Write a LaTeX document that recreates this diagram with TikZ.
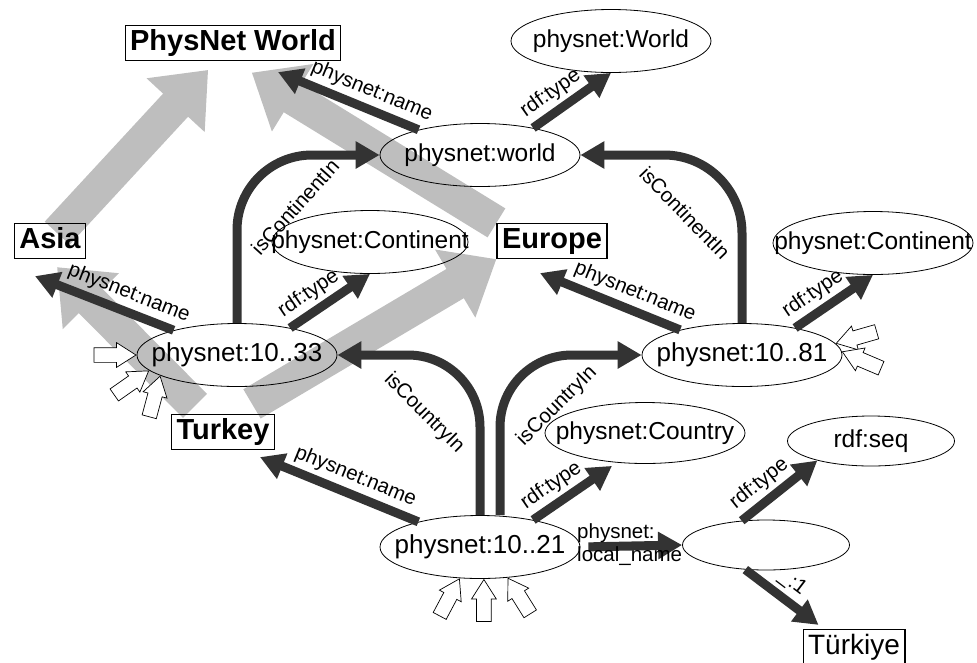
\documentclass[tikz,border=0pt]{standalone}
\usepackage{fontspec}
\setmainfont{Liberation Sans}
\usepackage{tikz}
\usetikzlibrary{arrows.meta}
\usetikzlibrary{shapes.geometric}
\usetikzlibrary{shapes.arrows}
\usetikzlibrary{calc}
\usetikzlibrary{backgrounds}
\definecolor{darkedge}{HTML}{333333}
\definecolor{lightedge}{HTML}{BEBEBE}

\begin{document}
\begin{tikzpicture}[x=1pt, y=-1pt,
        res/.style={ellipse, draw, line width=0.8pt, inner sep=0pt, minimum width=200pt, minimum height=63pt,
            font=\fontsize{24.5}{28}\selectfont,
            execute at begin node={\hbox to 0pt\bgroup\hss}, execute at end node={\hss\egroup}},
        numres/.style={res, font=\fontsize{26}{28}\selectfont},
        smallres/.style={res, minimum width=167pt, minimum height=50pt},
        lit/.style={draw, line width=1.2pt, inner xsep=5pt, inner ysep=3.5pt, text height=21.5pt, text depth=6.5pt,
            font=\fontsize{29}{30}\selectfont\bfseries},
        prop/.style={darkedge, line width=9pt, -{Triangle[length=24pt,width=26pt]}},
        hier/.style={lightedge, line width=34pt, -{Triangle[length=48pt,width=76pt]}},
        lbl/.style={black, font=\fontsize{20.5}{23}\selectfont, inner sep=1pt},
        incoming/.style={single arrow, draw, fill=white, line width=0.7pt, minimum height=42pt, minimum width=24pt,
            inner sep=7pt, single arrow head extend=5pt, single arrow tip angle=65, anchor=tip}]
        \useasboundingbox (0, 0) rectangle (977, 662);

        \node[lit] (pnw) at (233, 43) {PhysNet World};
        \node[res] (worldtype) at (611, 41) {physnet:World};
        \node[res] (world) at (480, 155) {physnet:world};
        \node[lit] (asia) at (50, 241) {Asia};
        \node[res, minimum width=196pt] (cont1) at (370, 242) {physnet:Continent};
        \node[lit] (europe) at (552, 241) {Europe};
        \node[res] (cont2) at (873, 243) {physnet:Continent};
        \node[numres] (n33) at (237, 355) {physnet:10..33};
        \node[numres] (n81) at (742, 355) {physnet:10..81};
        \node[lit] (turkey) at (223, 432) {Turkey};
        \node[res, minimum height=61pt] (country) at (645, 433) {physnet:Country};
        \node[smallres] (seq) at (871, 441) {rdf:seq};
        \node[numres] (n21) at (480, 547) {physnet:10..21};
        \node[smallres] (blank) at (766, 545) {};
        \node[lit, font=\fontsize{28}{30}\selectfont] (tuerkiye) at (854, 647) {Türkiye};

        \begin{scope}[on background layer]
            \draw[hier, shorten <=-14pt, shorten >=12pt] (asia) -- (pnw);
            \draw[hier, shorten >=22pt] (europe.north west) -- (pnw.south);
            \draw[hier] ($(turkey.north)+(-28, -8)$) -- ($(asia.south)+(7, 8)$);
            \draw[hier] ($(turkey.north)+(29, -10)$) -- (europe.south west);
        \end{scope}

        \draw[prop] (world) -- ($(pnw.south)+(45, 11)$)
            node[lbl, sloped, above=3pt, pos=0.38] (lname1) {physnet:name};
        \draw[prop] (world.27) -- (worldtype.south)
            node[lbl, sloped, above=3pt, pos=0.36] (ltype1) {rdf:type};
        \draw[prop, rounded corners=75pt] (n33.north) |- (world.west);
        \draw[prop, rounded corners=78pt] (n81.north) |- (world.east);
        \node[lbl, rotate=48] (lcont1) at (295, 207) {isContinentIn};
        \node[lbl, rotate=-46] (lcont2) at (685, 213) {isContinentIn};

        \draw[prop] (n33) -- ($(asia.south)+(-15, 17)$)
            node[lbl, sloped, above=3pt, pos=0.37] (lname2) {physnet:name};
        \draw[prop] (n33.27) -- (cont1.south)
            node[lbl, sloped, above=3pt, pos=0.36] (ltype2) {rdf:type};
        \draw[prop] (n81) -- ($(europe.south)+(-12, 14)$)
            node[lbl, sloped, above=3pt, pos=0.37] (lname3) {physnet:name};
        \draw[prop] (n81.27) -- (cont2.south)
            node[lbl, sloped, above=3pt, pos=0.36] (ltype3) {rdf:type};

        \draw[prop, rounded corners=72pt] (n21.north) |- (n33.east);
        \draw[prop, rounded corners=72pt] ($(n21.north)+(20, 0)$) |- (n81.west);
        \node[lbl, rotate=-45] (lcountry1) at (424, 413) {isCountryIn};
        \node[lbl, rotate=45] (lcountry2) at (557, 406) {isCountryIn};

        \draw[prop] (n21) -- ($(turkey.south)+(37, 7)$)
            node[lbl, sloped, above=3pt, pos=0.44] (lname4) {physnet:name};
        \draw[prop] (n21.27) -- ($(country.south)+(-33, 2)$)
            node[lbl, sloped, above=3pt, pos=0.36] (ltype4) {rdf:type};
        \draw[prop, shorten <=8pt] (n21.east) -- (blank.west);
        \node[lbl, anchor=west, align=left] (llocal) at (576, 545) {physnet:\\local\_name};
        \draw[prop] (blank.135) -- (seq.200)
            node[lbl, sloped, above=3pt, pos=0.38] (ltype5) {rdf:type};
        \draw[prop] (blank.230) -- ($(tuerkiye.north west)+(16, -4)$)
            node[lbl, sloped, above=3pt, pos=0.5] (lseq1) {\_:1};

        \node[incoming] (in33a) at (n33.west) {};
        \node[incoming, rotate=35] (in33b) at (n33.190) {};
        \node[incoming, rotate=75] (in33c) at (n33.195) {};
        \node[incoming, rotate=196] (in81a) at (n81.7) {};
        \node[incoming, rotate=157] (in81b) at (n81.2) {};
        \node[incoming, rotate=62] (in21a) at (n21.237) {};
        \node[incoming, rotate=90] (in21b) at (n21.277) {};
        \node[incoming, rotate=122] (in21c) at (n21.312) {};
    \end{tikzpicture}
\end{document}
